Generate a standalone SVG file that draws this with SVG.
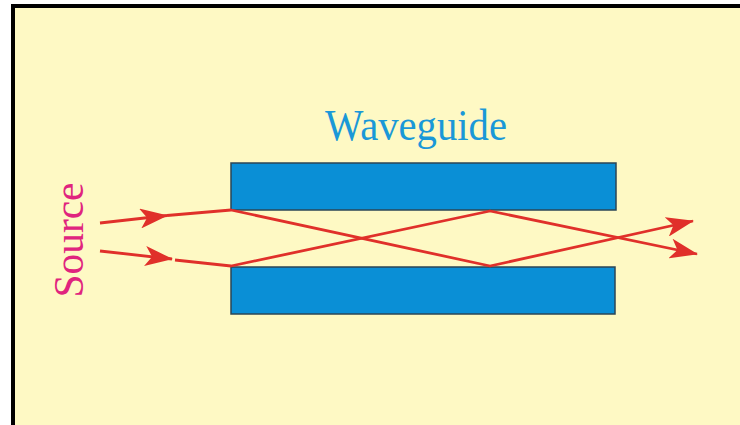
<svg xmlns="http://www.w3.org/2000/svg" width="740" height="425" viewBox="0 0 740 425">
  <style>
    .bar { fill: #0a8fd6; stroke: #2b4656; stroke-width: 1.5; }
    .ray { fill: none; stroke: #e0302a; stroke-width: 2.8; stroke-linejoin: round; }
    .title { font-family: "Liberation Serif", "Times New Roman", serif; }
  </style>
  <defs>
    <marker id="arrow" markerUnits="userSpaceOnUse" viewBox="0 0 28 20" markerWidth="28" markerHeight="20" refX="27" refY="10" orient="auto">
      <path d="M0,0 L28,10 L0,20 L7,10 Z" fill="#e0302a"/>
    </marker>
  </defs>

  <!-- page and frame -->
  <rect x="0" y="0" width="740" height="425" fill="#ffffff"/>
  <rect x="13" y="6" width="760" height="440" fill="#fef9c4" stroke="#000000" stroke-width="4"/>

  <!-- waveguide slabs -->
  <g id="waveguide-top">
    <rect class="bar" x="231" y="163" width="385" height="47"/>
  </g>
  <g id="waveguide-bottom">
    <rect class="bar" x="231" y="267" width="384" height="47"/>
  </g>

  <!-- labels -->
  <g id="label-waveguide">
    <text class="title" x="416" y="140" font-size="44" fill="#1a98d8" text-anchor="middle" textLength="182" lengthAdjust="spacingAndGlyphs">Waveguide</text>
  </g>
  <g id="label-source">
    <text class="title" transform="translate(83,240) rotate(-90)" x="0" y="0" font-size="43" fill="#e0247e" text-anchor="middle" textLength="115" lengthAdjust="spacingAndGlyphs">Source</text>
  </g>

  <!-- light rays bouncing between the slabs -->
  <g id="connectors">
    <path class="ray" d="M100,223 L167,215.5" marker-end="url(#arrow)"/>
    <path class="ray" d="M167,215.5 L231,210 L490,266 L693,221" marker-end="url(#arrow)"/>
    <path class="ray" d="M100,251 L172,259" marker-end="url(#arrow)"/>
    <path class="ray" d="M175,260 L231,266 L490,211 L697,254" marker-end="url(#arrow)"/>
  </g>
</svg>
